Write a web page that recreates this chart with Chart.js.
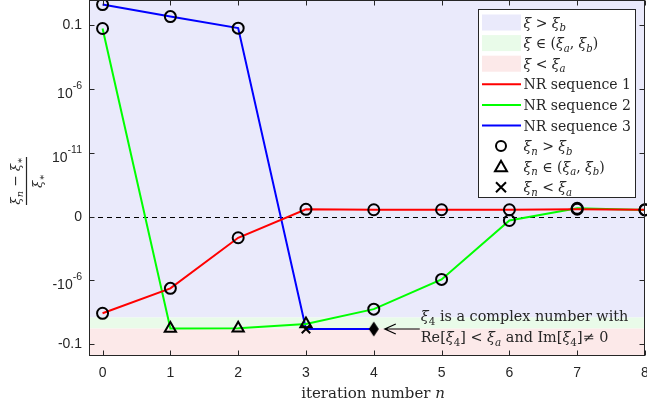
<!DOCTYPE html>
<html><head><meta charset="utf-8">
<script src="https://cdn.jsdelivr.net/npm/chart.js@4.4.0/dist/chart.umd.min.js"></script>
<style>html,body{margin:0;padding:0;background:#fff;overflow:hidden}canvas{display:block}</style>
</head><body>
<canvas id="c" width="647" height="408"></canvas>
<script>
// ---------- data (relative errors (xi_n - xi*)/xi*) ----------
const iterations   = [0, 1, 2, 3, 4, 5, 6, 7, 8];
const nrSequence1  = [-3.8e-4, -4.2e-6, -4.5e-10, 3.8e-16, 3.5e-16, 3.5e-16, 3.5e-16, 3.9e-16, 3.5e-16];
const nrSequence2  = [5.8e-2, -5.8e-3, -5.7e-3, -2.6e-3, -1.8e-4, -8.3e-7, -2.0e-11, 4.6e-16, 3.4e-16];
const nrSequence3  = [4.4, 0.50, 6.2e-2, -6.5e-3, -6.5e-3];
const complexIterate = [2, 4];          // [sequence index, n] : xi_4 of sequence 3 is complex
const xiBEdge = -8.1e-4;                // (xi_b - xi*)/xi*
const xiAEdge = -6.0e-3;                // (xi_a - xi*)/xi*
const yAxisLimits = [-0.85, 10];
const xAxisLimits = [-0.2, 8];
const xTickValues = [0, 1, 2, 3, 4, 5, 6, 7, 8];
const yTickValues = [-0.1, -1e-6, 0, 1e-11, 1e-6, 0.1];
const yTickLabels = [['-0.1', ''], ['-10', '-6'], ['0', ''], ['10', '-11'], ['10', '-6'], ['0.1', '']];
const seriesNames = ['NR sequence 1', 'NR sequence 2', 'NR sequence 3'];
const seriesColors = ['#ff0000', '#00ff00', '#0000ff'];

// signed-log transform used by the axis
function tf(v) {
  if (v > 0) return Math.log10(v) + 16;
  if (v < 0) return -(Math.log10(-v) + 11);
  return 0;
}

const sequences = [nrSequence1, nrSequence2, nrSequence3];
const circles = [], triangles = [], crosses = [], diamonds = [];
sequences.forEach((seq, si) => {
  seq.forEach((v, i) => {
    const p = { x: iterations[i], y: tf(v) };
    if (si === complexIterate[0] && iterations[i] === complexIterate[1]) { diamonds.push(p); return; }
    if (v > xiBEdge) circles.push(p);
    else if (v > xiAEdge) triangles.push(p);
    else crosses.push(p);
  });
});

// tall diamond marker
const diamondImg = document.createElement('canvas');
diamondImg.width = 12; diamondImg.height = 16;
(function () {
  const g = diamondImg.getContext('2d');
  g.fillStyle = '#000';
  g.beginPath(); g.moveTo(6, 0.5); g.lineTo(11, 8); g.lineTo(6, 15.5); g.lineTo(1, 8); g.closePath(); g.fill();
})();

const SERIF = '"DejaVu Serif", serif';
const SANS = '"Liberation Sans", Arial, sans-serif';
const AX = '#262626';
const BAND = ['rgb(234,234,251)', 'rgb(233,251,233)', 'rgb(252,233,233)'];

const I = t => ({ t, it: true });
const N = t => ({ t });
const S = (t, it = true) => ({ t, it, sub: true });
const XI = I('ξ');

function segFont(s, size) {
  const sz = (s.sub || s.sup) ? size * 0.72 : size;
  return (s.it ? 'italic ' : '') + sz.toFixed(1) + 'px ' + SERIF;
}
function richWidth(ctx, segs, size) {
  let w = 0;
  for (const s of segs) { ctx.font = segFont(s, size); w += ctx.measureText(s.t).width; }
  return w;
}
function drawRich(ctx, segs, x, y, size, align) {
  const w = richWidth(ctx, segs, size);
  let cx = align === 'center' ? x - w / 2 : align === 'right' ? x - w : x;
  ctx.textAlign = 'left'; ctx.textBaseline = 'alphabetic';
  for (const s of segs) {
    ctx.font = segFont(s, size);
    const dy = s.sub ? size * 0.25 : s.sup ? -size * 0.4 : 0;
    ctx.fillText(s.t, cx, y + dy);
    cx += ctx.measureText(s.t).width;
  }
}

function drawMarker(ctx, kind, x, y) {
  ctx.save();
  ctx.strokeStyle = '#000'; ctx.lineWidth = 2;
  ctx.beginPath();
  if (kind === 'circle') { ctx.arc(x, y, 5, 0, Math.PI * 2); }
  else if (kind === 'triangle') { ctx.moveTo(x, y - 6); ctx.lineTo(x + 6, y + 4.5); ctx.lineTo(x - 6, y + 4.5); ctx.closePath(); }
  else { ctx.moveTo(x - 5, y - 5); ctx.lineTo(x + 5, y + 5); ctx.moveTo(x + 5, y - 5); ctx.lineTo(x - 5, y + 5); }
  ctx.stroke();
  ctx.restore();
}

const decor = {
  id: 'decor',
  beforeDatasetsDraw(chart) {
    const { ctx, chartArea: a, scales: { y } } = chart;
    const yB = y.getPixelForValue(tf(xiBEdge)), yA = y.getPixelForValue(tf(xiAEdge));
    ctx.save();
    ctx.fillStyle = BAND[0]; ctx.fillRect(a.left, a.top, a.right - a.left, yB - a.top);
    ctx.fillStyle = BAND[1]; ctx.fillRect(a.left, yB, a.right - a.left, yA - yB);
    ctx.fillStyle = BAND[2]; ctx.fillRect(a.left, yA, a.right - a.left, a.bottom - yA);
    const y0 = Math.round(y.getPixelForValue(0)) + 0.5;
    ctx.strokeStyle = '#000'; ctx.lineWidth = 1; ctx.setLineDash([5, 4]);
    ctx.beginPath(); ctx.moveTo(a.left, y0); ctx.lineTo(a.right, y0); ctx.stroke();
    ctx.restore();
  },
  afterDraw(chart) {
    const { ctx, chartArea: a, scales: { x, y } } = chart;
    ctx.save();
    // box
    ctx.strokeStyle = AX; ctx.lineWidth = 1;
    const L = Math.round(a.left) + 0.5, R = Math.round(a.right) - 0.5, T = Math.round(a.top) + 0.5, B = Math.round(a.bottom) - 0.5;
    ctx.strokeRect(L, T, R - L, B - T);
    // ticks (inward)
    ctx.beginPath();
    xTickValues.forEach(v => {
      const px = Math.round(x.getPixelForValue(v)) + 0.5;
      ctx.moveTo(px, B); ctx.lineTo(px, B - 5);
      ctx.moveTo(px, T); ctx.lineTo(px, T + 5);
    });
    yTickValues.forEach(v => {
      const py = Math.round(y.getPixelForValue(tf(v))) + 0.5;
      ctx.moveTo(L, py); ctx.lineTo(L + 5, py);
      ctx.moveTo(R, py); ctx.lineTo(R - 5, py);
    });
    ctx.stroke();
    // tick labels
    ctx.fillStyle = AX;
    ctx.font = '14px ' + SANS; ctx.textAlign = 'center'; ctx.textBaseline = 'middle';
    xTickValues.forEach(v => ctx.fillText(String(v), x.getPixelForValue(v), a.bottom + 17));
    yTickValues.forEach((v, i) => {
      const py = y.getPixelForValue(tf(v));
      const [base, exp] = yTickLabels[i];
      const right = a.left - 7;
      ctx.textAlign = 'right'; ctx.textBaseline = 'middle';
      if (!exp) { ctx.font = '14px ' + SANS; ctx.fillText(base, right, py); }
      else {
        ctx.font = '10.5px ' + SANS; const ew = ctx.measureText(exp).width;
        ctx.fillText(exp, right, py - 3);
        ctx.font = '14px ' + SANS; ctx.fillText(base, right - ew, py + 5);
      }
    });
    // x title
    ctx.fillStyle = '#262626';
    drawRich(ctx, [N('iteration number '), I('n')], (a.left + a.right) / 2 + 6, a.bottom + 42, 15, 'center');
    // y title (fraction, rotated)
    ctx.save();
    ctx.translate(26.5, 181); ctx.rotate(-Math.PI / 2);
    drawRich(ctx, [XI, S('n'), N(' − '), XI, S('∗', false)], 0, -7, 13.5, 'center');
    drawRich(ctx, [XI, S('∗', false)], 0, 15, 13.5, 'center');
    ctx.fillRect(-24, -0.6, 48, 1.2);
    ctx.restore();

    // annotation for complex iterate
    const dx = x.getPixelForValue(complexIterate[1]);
    const dy = y.getPixelForValue(tf(sequences[complexIterate[0]][complexIterate[1]]));
    ctx.strokeStyle = '#000'; ctx.lineWidth = 1.2;
    const tip = dx + 11;
    ctx.beginPath(); ctx.moveTo(tip + 35, dy); ctx.lineTo(tip, dy);
    ctx.moveTo(tip + 11, dy - 5); ctx.lineTo(tip, dy); ctx.lineTo(tip + 11, dy + 5); ctx.stroke();
    ctx.fillStyle = '#262626';
    drawRich(ctx, [XI, S('4', false), N(' is a complex number with')], tip + 36, dy - 8, 14.4, 'left');
    drawRich(ctx, [N('Re['), XI, S('4', false), N('] < '), XI, S('a'), N(' and Im['), XI, S('4', false), N(']≠ 0')], tip + 36, dy + 13, 14.4, 'left');

    // legend
    const lx = 478.5, ly = 9.5, lw = 157, lh = 188;
    ctx.fillStyle = '#fff'; ctx.fillRect(lx, ly, lw, lh);
    ctx.strokeStyle = AX; ctx.lineWidth = 1; ctx.strokeRect(lx, ly, lw, lh);
    const rows = [
      { kind: 'patch', c: BAND[0], segs: [XI, N(' > '), XI, S('b')] },
      { kind: 'patch', c: BAND[1], segs: [XI, N(' ∈ ('), XI, S('a'), N(', '), XI, S('b'), N(')')] },
      { kind: 'patch', c: BAND[2], segs: [XI, N(' < '), XI, S('a')] },
      { kind: 'line', c: seriesColors[0], segs: [N(seriesNames[0])] },
      { kind: 'line', c: seriesColors[1], segs: [N(seriesNames[1])] },
      { kind: 'line', c: seriesColors[2], segs: [N(seriesNames[2])] },
      { kind: 'circle', segs: [XI, S('n'), N(' > '), XI, S('b')] },
      { kind: 'triangle', segs: [XI, S('n'), N(' ∈ ('), XI, S('a'), N(', '), XI, S('b'), N(')')] },
      { kind: 'cross', segs: [XI, S('n'), N(' < '), XI, S('a')] }
    ];
    rows.forEach((r, i) => {
      const cy = 22.5 + i * 20.6;
      if (r.kind === 'patch') { ctx.fillStyle = r.c; ctx.fillRect(482, cy - 8, 39, 16); }
      else if (r.kind === 'line') { ctx.strokeStyle = r.c; ctx.lineWidth = 2; ctx.beginPath(); ctx.moveTo(482, cy); ctx.lineTo(521, cy); ctx.stroke(); }
      else drawMarker(ctx, r.kind, 501, cy);
      ctx.fillStyle = '#262626';
      drawRich(ctx, r.segs, 523.5, cy + 5, 14, 'left');
    });
    ctx.restore();
  }
};

const lineSets = sequences.map((seq, si) => ({
  label: seriesNames[si],
  data: seq.map((v, i) => ({ x: iterations[i], y: tf(v) })),
  showLine: true, borderColor: seriesColors[si], borderWidth: 2,
  pointRadius: 0, order: 1
}));
const markerBase = { showLine: false, borderColor: '#000', backgroundColor: 'rgba(0,0,0,0)', pointBorderWidth: 2, order: 0, clip: false };
const markerSets = [
  Object.assign({ label: 'circles', data: circles, pointStyle: 'circle', pointRadius: 5.5 }, markerBase),
  Object.assign({ label: 'triangles', data: triangles, pointStyle: 'triangle', pointRadius: 6.5 }, markerBase),
  Object.assign({ label: 'crosses', data: crosses, pointStyle: 'crossRot', pointRadius: 6 }, markerBase),
  Object.assign({ label: 'complex', data: diamonds, pointStyle: diamondImg, pointRadius: 8 }, markerBase)
];

new Chart(document.getElementById('c'), {
  type: 'scatter',
  data: { datasets: markerSets.concat(lineSets) },
  options: {
    responsive: false, animation: false, devicePixelRatio: 1,
    layout: { autoPadding: false, padding: { left: 0, right: 2, top: 0, bottom: 0 } },
    plugins: { legend: { display: false }, tooltip: { enabled: false } },
    scales: {
      x: {
        type: 'linear', min: xAxisLimits[0], max: xAxisLimits[1],
        grid: { display: false }, border: { display: false }, ticks: { display: false },
        afterFit(s) { s.height = 52; }
      },
      y: {
        type: 'linear', min: tf(yAxisLimits[0]), max: tf(yAxisLimits[1]),
        grid: { display: false }, border: { display: false }, ticks: { display: false },
        afterFit(s) { s.width = 89; }
      }
    }
  },
  plugins: [decor]
});
</script>
</body></html>
